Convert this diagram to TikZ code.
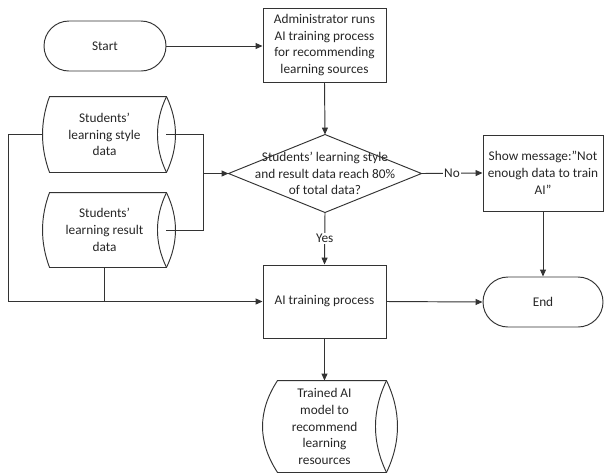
\documentclass[tikz,border=0pt]{standalone}
\usepackage{fontspec}
\setmainfont{Carlito}
\usetikzlibrary{arrows.meta,calc}

% Outline of a "stored data" symbol around a named node:
% #1 node, #2 inset of the flat top from the left bulge, #3 depth of the right lens
\newcommand\drawstored[3]{%
  \draw ($(#1.north west)+(#2,0)$) -- (#1.north east)
    .. controls ($(#1.north east)!1/3!(#1.south east)+({4/3*#3},0)$) and ($(#1.north east)!2/3!(#1.south east)+({4/3*#3},0)$) .. (#1.south east)
    -- ($(#1.south west)+(#2,0)$)
    .. controls ($(#1.north west)!2/3!(#1.south west)+({-#2/3},0)$) and ($(#1.north west)!1/3!(#1.south west)+({-#2/3},0)$) .. cycle;
  \draw (#1.north east)
    .. controls ($(#1.north east)!1/3!(#1.south east)-({4/3*#3},0)$) and ($(#1.north east)!2/3!(#1.south east)-({4/3*#3},0)$) .. (#1.south east);
}

\begin{document}
\begin{tikzpicture}[x=1pt,y=-1pt,
  line width=0.95pt, color=black!80,
  every node/.style={font=\fontsize{13.3}{16.8}\selectfont, align=center, inner sep=0pt, text=black!85},
  terminal/.style={draw, rounded corners=25pt, minimum width=122pt, minimum height=50pt},
  procbox/.style={draw, minimum width=123pt, minimum height=74pt},
  datanode/.style={minimum width=123pt},
  arr/.style={-{Triangle[length=7pt,width=6pt]}},
  lbl/.style={fill=white, inner sep=1.5pt}
]
\useasboundingbox (0,0) rectangle (604,475);

% Nodes
\node[terminal] (start) at (105,46) {Start};
\node[procbox] (admin) at (324.5,45) {Administrator runs\\AI training process\\for recommending\\learning sources};
\node[minimum width=192pt, minimum height=77pt] (dia) at (325,173.5)
  {Students' learning style\\and result data reach 80\%\\of total data?};
\draw (dia.west) -- (dia.north) -- (dia.east) -- (dia.south) -- cycle;
\node[procbox, minimum width=120pt, minimum height=76pt] (msg) at (543,173)
  {Show message:”Not\\enough data to train\\AI”};
\node[procbox, minimum height=73pt] (ai) at (324.5,301.5) {AI training process};
\node[terminal, minimum width=120pt] (end) at (543,302) {End};

\node[datanode, minimum height=75pt] (d1) at (104.5,134.5) {Students'\\learning style\\data};
\drawstored{d1}{7}{9}
\node[datanode, minimum height=74pt] (d2) at (104.5,230) {Students'\\learning result\\data};
\drawstored{d2}{7}{9}
\node[datanode, minimum height=91pt] (tr) at (324.5,426.5) {Trained AI\\model to\\recommend\\learning\\resources};
\drawstored{tr}{15}{11}

% Bus lines
\coordinate (lbus) at (8,0);
\coordinate (rbus) at (203,0);

% Connectors
\draw[arr] (start.east) -- (start.east -| admin.west);
\draw[arr] (admin.south) -- (dia.north);
\draw[arr] (d1.west) -- (d1.west -| lbus) |- (ai.west);
\draw (d1.east) -- (d1.east -| rbus) -- (d2.east -| rbus) -- (d2.east);
\draw[arr] (dia.west -| rbus) -- (dia.west);
\draw (d2.south) -- (d2.south |- ai.west);
\draw[arr] (dia.south) -- node[lbl] {Yes} (ai.north);
\draw[arr] (dia.east) -- node[lbl] {No} (msg.west);
\draw[arr] (msg.south) -- (end.north);
\draw[arr] (ai.east) -- (end.west);
\draw[arr] (ai.south) -- (tr.north);
\end{tikzpicture}
\end{document}
